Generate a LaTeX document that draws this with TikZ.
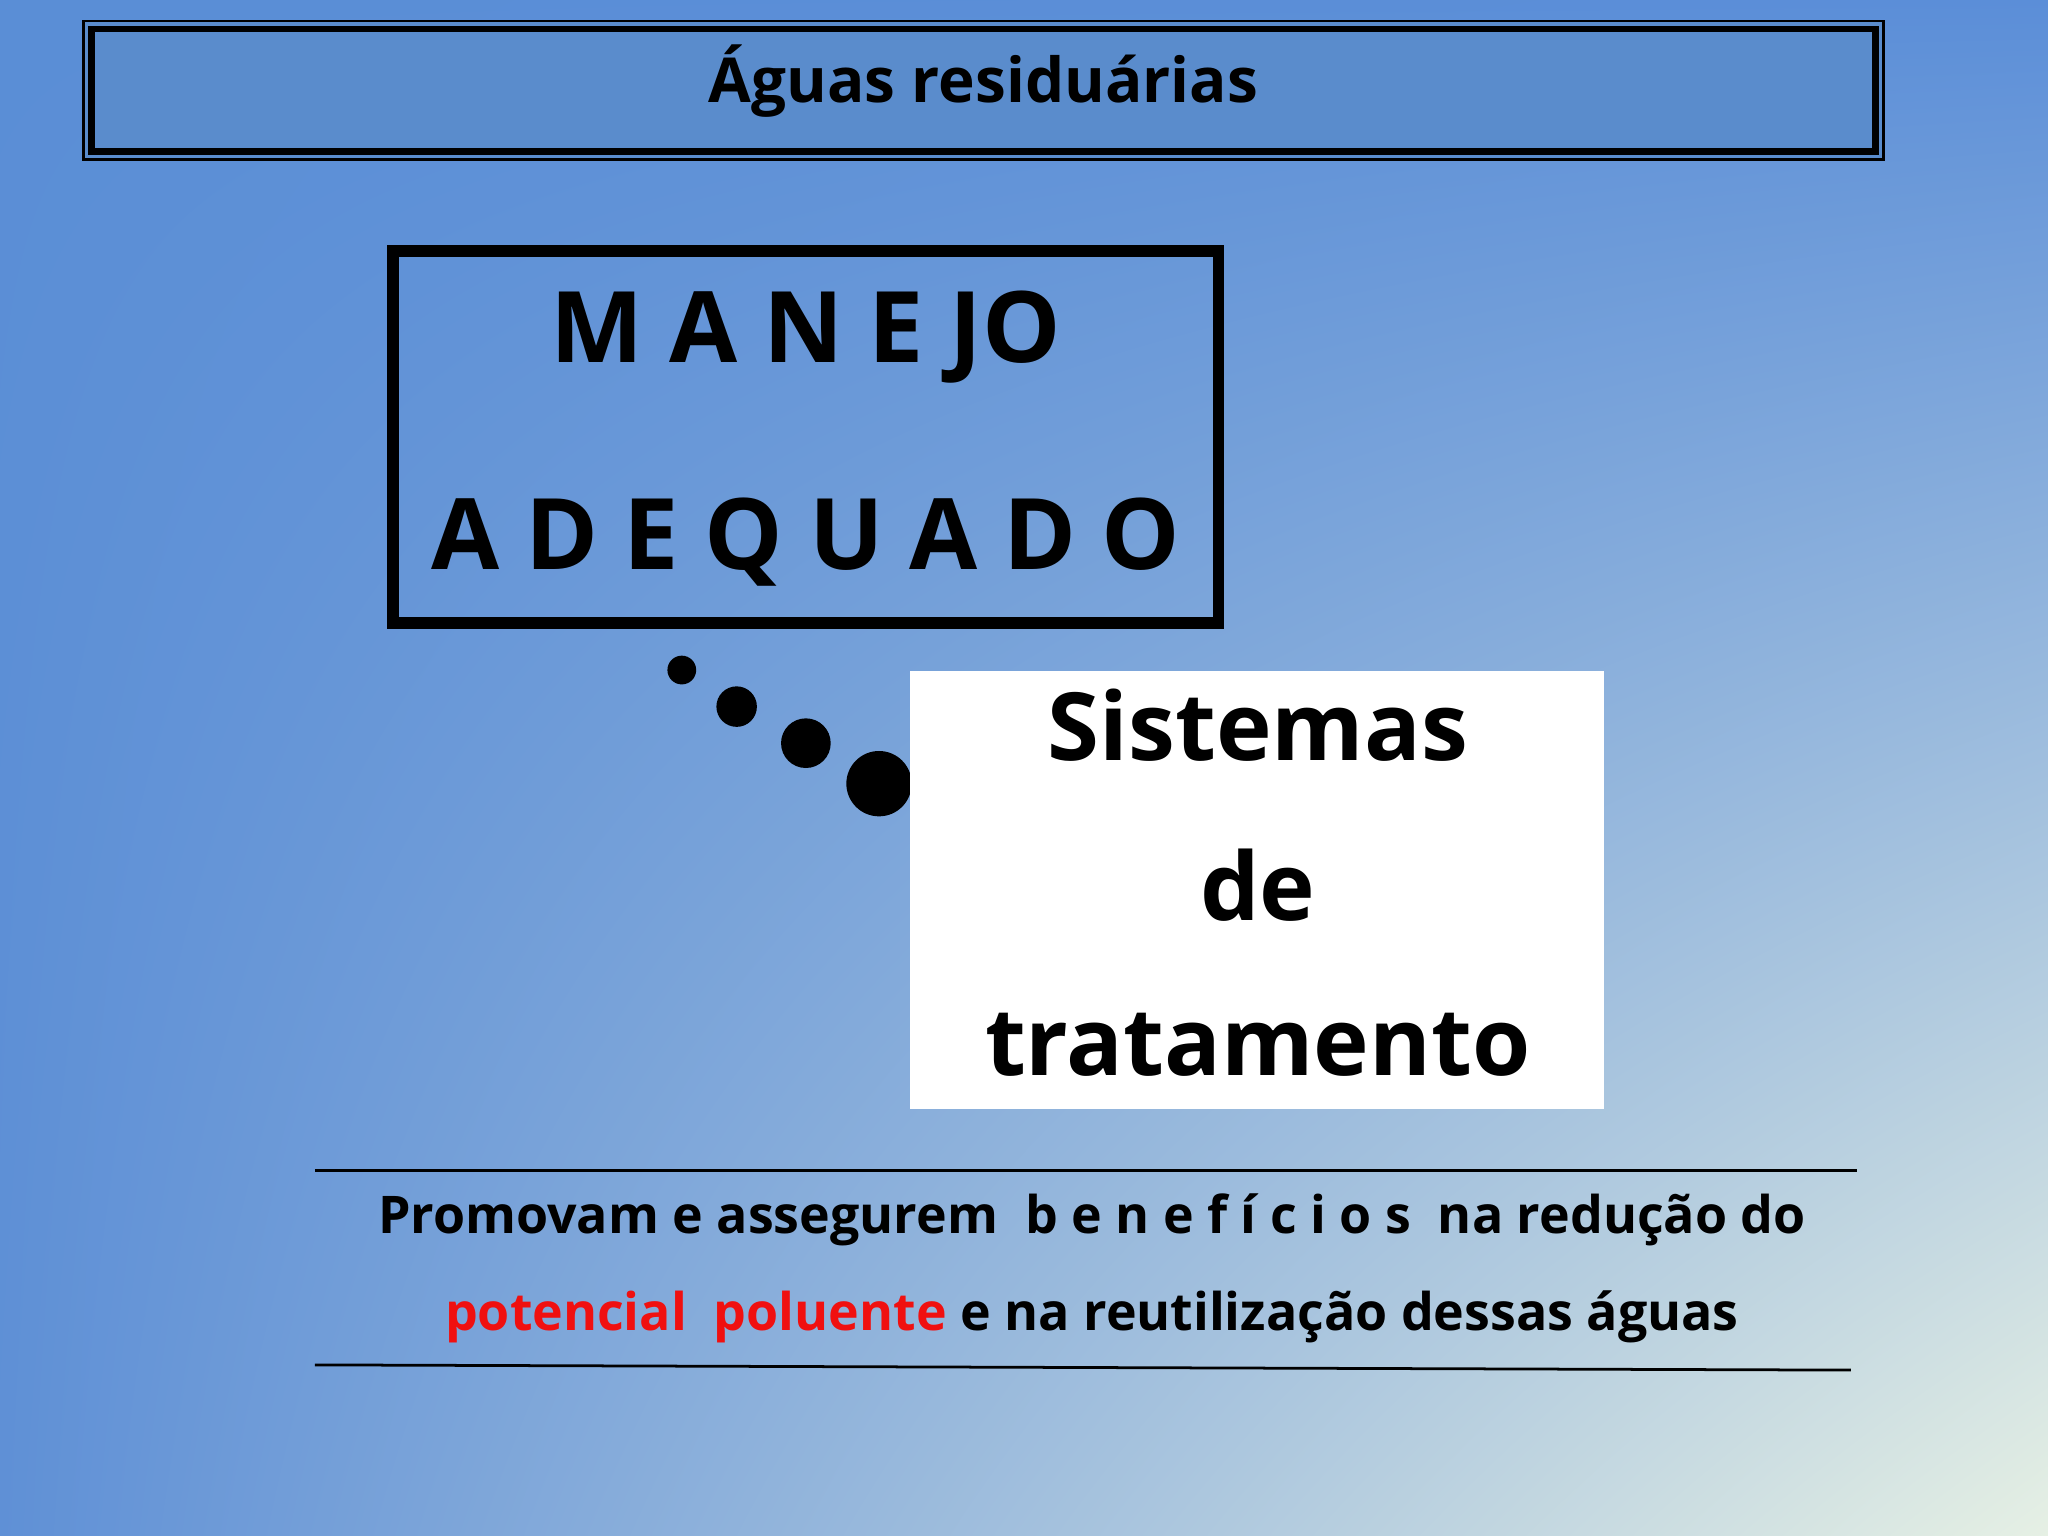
\documentclass[tikz,border=0pt]{standalone}
\usepackage{fontspec}
\usetikzlibrary{shadings}
\setmainfont{Open Sans}
\definecolor{bgA}{HTML}{5A8ED6}
\definecolor{bgC}{HTML}{5B8ED8}
\definecolor{bgD}{HTML}{5F90D6}
\definecolor{bgB}{HTML}{E6F0E4}
\definecolor{titlefill}{HTML}{5A8CCC}
\definecolor{polred}{HTML}{F01010}
\tikzset{dot/.style={circle,fill=black,inner sep=0pt}}
\begin{document}
\begin{tikzpicture}[x=0.01cm,y=-0.01cm]
\useasboundingbox (0,0) rectangle (1568,1176);
\shade[upper left=bgA,upper right=bgC,lower left=bgD,lower right=bgB] (0,0) rectangle (1568,1176);
% title
\draw[line width=0.6pt,fill=titlefill] (64,16) rectangle (1442,122);
\draw[line width=1.4pt] (70,22) rectangle (1436,116);
\node[font=\fontsize{13.5}{16}\selectfont\bfseries] (title) at (753,62) {Águas residuárias};
% manejo
\draw[line width=2.5pt] (301,192) rectangle (933,477);
\node[font=\fontsize{21.5}{26}\selectfont\bfseries] (m1) at (617,258) {M A N E JO};
\node[font=\fontsize{21.5}{26}\selectfont\bfseries] (m2) at (617,415) {A D E Q U A D O};
% dots
\node[dot,minimum size=0.22cm] (d1) at (522,513) {};
\node[dot,minimum size=0.31cm] (d2) at (564,541) {};
\node[dot,minimum size=0.38cm] (d3) at (617,569) {};
\node[dot,minimum size=0.50cm] (d4) at (673,600) {};
% white box
\fill[white] (697,514) rectangle (1228,849);
\node[font=\fontsize{20.5}{25}\selectfont\bfseries] (s1) at (963,555) {Sistemas};
\node[font=\fontsize{20.5}{25}\selectfont\bfseries] (s2) at (963,678) {de};
\node[font=\fontsize{20.5}{25}\selectfont\bfseries] (s3) at (963,800) {tratamento};
% lines
\coordinate (la) at (241,896); \coordinate (lb) at (1422,896);
\coordinate (lc) at (241,1045); \coordinate (ld) at (1417,1049);
\draw[line width=0.6pt] (la) -- (lb);
\draw[line width=0.6pt] (lc) -- (ld);
\node[font=\fontsize{11.3}{14}\selectfont\bfseries] (t1) at (836,934) {Promovam e assegurem \ b e n e f í c i o s \ na redução do};
\node[font=\fontsize{11.3}{14}\selectfont\bfseries] (t2) at (836,1008) {\textcolor{polred}{potencial \ poluente} e na reutilização dessas águas};
\end{tikzpicture}
\end{document}
